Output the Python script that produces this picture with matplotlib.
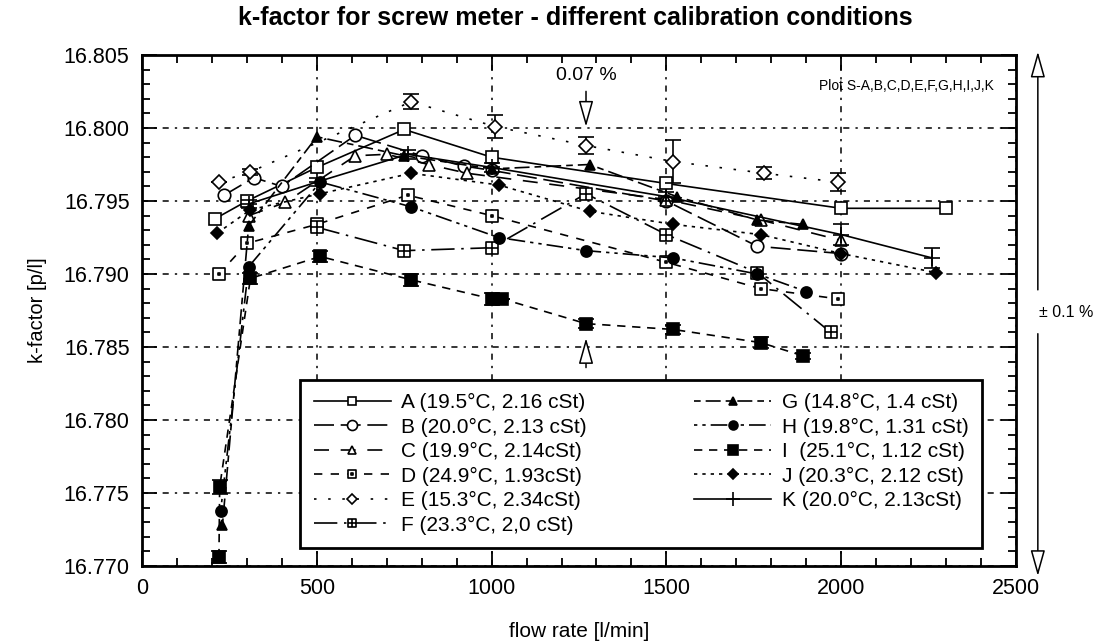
import matplotlib.pyplot as plt
from matplotlib.path import Path
from matplotlib.ticker import MultipleLocator, FormatStrFormatter

plt.rcParams['font.family'] = ['Liberation Sans', 'DejaVu Sans']

# flow rate [l/min] and k-factor [p/l]
A_x = [210, 300, 500, 750, 1000, 1500, 2000, 2300]
A_y = [16.7938, 16.7950, 16.7973, 16.7999, 16.7980, 16.7962, 16.7945, 16.7945]

B_x = [235, 320, 400, 610, 800, 920, 1000, 1500, 1760, 2000]
B_y = [16.7954, 16.7966, 16.7960, 16.7995, 16.7981, 16.7974, 16.7971, 16.7950, 16.7919, 16.7914]

C_x = [305, 410, 610, 700, 820, 930, 1500, 1770, 2000]
C_y = [16.7940, 16.7949, 16.7981, 16.7982, 16.7975, 16.7969, 16.7951, 16.7937, 16.7923]

D_x = [220, 300, 500, 760, 1000, 1500, 1770, 1990]
D_y = [16.7900, 16.7921, 16.7934, 16.7954, 16.7940, 16.7908, 16.7890, 16.7883]

E_x = [220, 310, 770, 1010, 1270, 1520, 1780, 1990]
E_y = [16.7963, 16.7970, 16.8018, 16.8001, 16.7988, 16.7977, 16.7969, 16.7963]
E_err = [0, 0.0002, 0.0005, 0.0008, 0.0006, 0.0015, 0.0004, 0.0006]

F_x = [500, 750, 1000, 1270, 1500, 1760, 1970]
F_y = [16.7932, 16.7916, 16.7918, 16.7955, 16.7927, 16.7901, 16.7860]

G_x = [230, 305, 500, 750, 1000, 1280, 1530, 1760, 1890]
G_y = [16.7728, 16.7933, 16.7994, 16.7981, 16.7972, 16.7975, 16.7953, 16.7937, 16.7934]

H_x = [225, 305, 510, 770, 1020, 1270, 1520, 1760, 1900]
H_y = [16.7738, 16.7905, 16.7963, 16.7946, 16.7925, 16.7916, 16.7911, 16.7900, 16.7888]

I_x = [220, 222, 310, 510, 770, 1000, 1030, 1270, 1520, 1770, 1890]
I_y = [16.7706, 16.7754, 16.7897, 16.7912, 16.7896, 16.7883, 16.7883, 16.7866, 16.7862, 16.7853, 16.7844]
I_err = [0.0004, 0.0005, 0.0004, 0.0004, 0.0004, 0.0004, 0, 0.0003, 0.0003, 0.0004, 0.0002]

J_x = [215, 310, 510, 770, 1020, 1280, 1520, 1770, 2000, 2270]
J_y = [16.7928, 16.7944, 16.7955, 16.7969, 16.7961, 16.7943, 16.7934, 16.7927, 16.7914, 16.7901]

K_x = [305, 500, 760, 1000, 1500, 2000, 2260]
K_y = [16.7948, 16.7963, 16.7982, 16.7973, 16.7953, 16.7927, 16.7911]
K_err = [0.0003, 0.0003, 0.0003, 0.0003, 0.0003, 0.0007, 0.0007]

labels = ['A (19.5°C, 2.16 cSt)', 'B (20.0°C, 2.13 cSt)', 'C (19.9°C, 2.14cSt)',
          'D (24.9°C, 1.93cSt)', 'E (15.3°C, 2.34cSt)', 'F (23.3°C, 2,0 cSt)',
          'G (14.8°C, 1.4 cSt)', 'H (19.8°C, 1.31 cSt)', 'I  (25.1°C, 1.12 cSt)',
          'J (20.3°C, 2.12 cSt)', 'K (20.0°C, 2.13cSt)']

# square with a cross inside (series F)
boxcross = Path([(-1, -1), (1, -1), (1, 1), (-1, 1), (-1, -1), (0, -1), (0, 1), (-1, 0), (1, 0)],
                [Path.MOVETO, Path.LINETO, Path.LINETO, Path.LINETO, Path.CLOSEPOLY,
                 Path.MOVETO, Path.LINETO, Path.MOVETO, Path.LINETO])
# square with a dot inside (series D)
boxdot = Path([(-1, -1), (1, -1), (1, 1), (-1, 1), (-1, -1), (-0.12, -0.12), (0.12, -0.12), (0.12, 0.12), (-0.12, 0.12), (-0.12, -0.12)],
              [Path.MOVETO, Path.LINETO, Path.LINETO, Path.LINETO, Path.CLOSEPOLY,
               Path.MOVETO, Path.LINETO, Path.LINETO, Path.LINETO, Path.CLOSEPOLY])

fig = plt.figure(figsize=(10.96, 6.42), dpi=100)
ax = fig.add_axes([0.1296, 0.1184, 0.7974, 0.7959])

handles = []

def draw(x, y, label, ls, marker, fill, ms, err=None):
    fc = 'black' if fill else 'white'
    if err is None:
        line, = ax.plot(x, y, color='black', lw=1.2, ls=ls, marker=marker, ms=ms,
                        mfc=fc, mec='black', mew=1.2, label=label, zorder=3)
    else:
        cont = ax.errorbar(x, y, yerr=err, color='black', lw=1.2, ls=ls, marker=marker, ms=ms,
                           mfc=fc, mec='black', mew=1.2, elinewidth=1.2, capsize=6, capthick=1.2,
                           label=label, zorder=3)
        line = cont.lines[0]
    # legend shows the line and marker only, in A..K order
    handles.append(line)

draw(A_x, A_y, labels[0], '-', 's', False, 8)
draw(B_x, B_y, labels[1], (0, (12, 4)), 'o', False, 9)
draw(C_x, C_y, labels[2], (0, (9, 7)), '^', False, 8)
draw(D_x, D_y, labels[3], (0, (5, 5)), boxdot, False, 8)
draw(E_x, E_y, labels[4], (0, (1.5, 7)), 'D', False, 7, E_err)
draw(F_x, F_y, labels[5], (0, (14, 4, 1.5, 4)), boxcross, False, 8)
draw(G_x, G_y, labels[6], (0, (4, 3, 9, 3)), '^', True, 7)
draw(H_x, H_y, labels[7], (0, (2, 3, 2, 3, 10, 3)), 'o', True, 8)
draw(I_x, I_y, labels[8], (0, (5, 4)), 's', True, 9, I_err)
draw(J_x, J_y, labels[9], (0, (2, 3)), 'D', True, 6)
draw(K_x, K_y, labels[10], '-', '+', False, 12, K_err)

ax.set_xlim(0, 2500)
ax.set_ylim(16.770, 16.805)
ax.xaxis.set_major_locator(MultipleLocator(500))
ax.xaxis.set_minor_locator(MultipleLocator(100))
ax.yaxis.set_major_locator(MultipleLocator(0.005))
ax.yaxis.set_minor_locator(MultipleLocator(0.001))
ax.yaxis.set_major_formatter(FormatStrFormatter('%.3f'))
ax.tick_params(which='both', direction='in', top=True, right=True, width=1.3, labelsize=15.5)
ax.tick_params(which='major', length=11, pad=9)
ax.tick_params(which='minor', length=6)
for s in ax.spines.values():
    s.set_linewidth(2)

ax.grid(True, which='major', color='black', lw=1.1, ls=(0, (4, 4, 1.5, 4)), zorder=1)

ax.set_xlabel('flow rate [l/min]', fontsize=15, labelpad=16)
ax.set_ylabel('k-factor [p/l]', fontsize=14.5, labelpad=12)
fig.suptitle('k-factor for screw meter - different calibration conditions',
             fontsize=18, fontweight='bold', x=0.525, y=0.99)

ax.text(0.975, 0.94, 'Plot S-A,B,C,D,E,F,G,H,I,J,K', transform=ax.transAxes,
        ha='right', va='center', fontsize=10)

# 0.07 % span markers
ax.text(1270, 16.8036, '0.07 %', ha='center', va='center', fontsize=14)
arr = dict(arrowstyle='-|>,head_length=1.6,head_width=0.45', fc='white', ec='black', lw=1.1)
ax.annotate('', xy=(1270, 16.7999), xytext=(1270, 16.8027), arrowprops=arr)
ax.annotate('', xy=(1270, 16.7858), xytext=(1270, 16.7834), arrowprops=arr, annotation_clip=False)

# +/- 0.1 % double arrow at the right
ax.annotate('', xy=(1.025, 1.012), xytext=(1.025, 0.535), xycoords='axes fraction',
            arrowprops=arr, annotation_clip=False)
ax.annotate('', xy=(1.025, -0.025), xytext=(1.025, 0.46), xycoords='axes fraction',
            arrowprops=arr, annotation_clip=False)
ax.text(1.057, 0.497, '± 0.1 %', transform=ax.transAxes, ha='center', va='center', fontsize=11.5)

leg = ax.legend(handles, labels, ncol=2, loc='lower left', bbox_to_anchor=(0.181, 0.035, 0.78, 0.337),
                mode='expand', fontsize=15, frameon=True, fancybox=False, edgecolor='black',
                framealpha=1, handlelength=3.7, handletextpad=0.5, labelspacing=0.26,
                columnspacing=1.0, borderpad=0.65, borderaxespad=0, markerscale=0.8)
leg.get_frame().set_linewidth(2)
leg.set_zorder(5)

fig.savefig('out.png', dpi=100)
